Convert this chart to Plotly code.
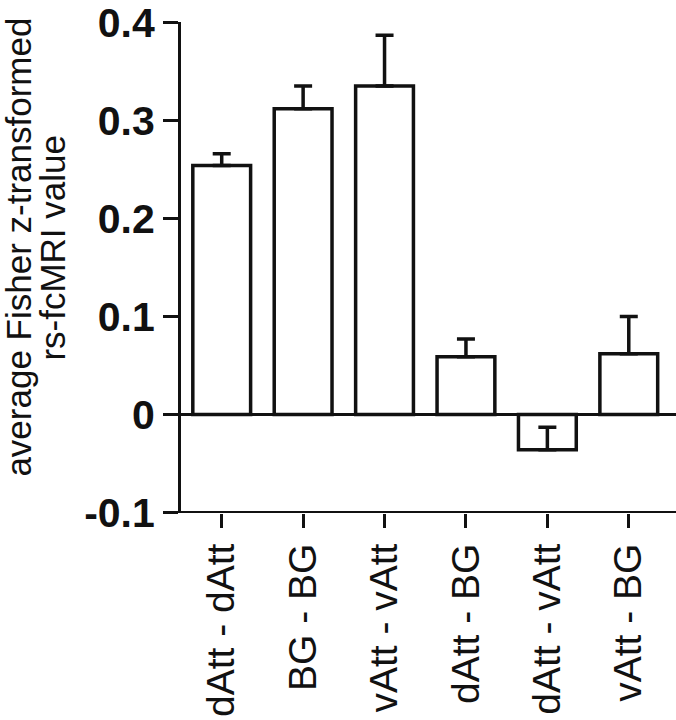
import plotly.graph_objects as go

categories = ["dAtt - dAtt", "BG - BG", "vAtt - vAtt", "dAtt - BG", "dAtt - vAtt", "vAtt - BG"]
values = [0.254, 0.312, 0.335, 0.059, -0.036, 0.062]
errors = [0.012, 0.023, 0.052, 0.018, 0.023, 0.038]
y_ticks = [-0.1, 0, 0.1, 0.2, 0.3, 0.4]
y_ticklabels = ["-0.1", "0", "0.1", "0.2", "0.3", "0.4"]
y_title_lines = ["average Fisher z-transformed", "rs-fcMRI value"]

ink = "#111111"
W, H = 676, 720
L, R, T, B = 181, 0, 19, 207
pw, ph = W - L - R, H - T - B


def px_x(p):
    return (p - L) / pw


def px_y(p):
    return (H - B - p) / ph


fig = go.Figure()
fig.add_trace(go.Bar(
    x=list(range(len(categories))),
    y=values,
    width=0.71,
    marker=dict(color="white", line=dict(color=ink, width=3.5)),
    error_y=dict(type="data", array=errors, arrayminus=[0] * len(errors),
                 symmetric=False, color=ink, thickness=3.5, width=9),
))

annotations = []
for text, cx in zip(y_title_lines, [19, 53]):
    annotations.append(dict(text=text, xref="paper", yref="paper", x=px_x(cx), y=px_y(246),
                            xanchor="center", yanchor="middle", textangle=-90, showarrow=False,
                            font=dict(size=35, color=ink)))

fig.update_layout(
    width=W, height=H,
    margin=dict(l=L, r=R, t=T, b=B),
    paper_bgcolor="white", plot_bgcolor="white",
    showlegend=False,
    font=dict(family="Liberation Sans, Arial, Helvetica, sans-serif", color=ink),
    xaxis=dict(
        range=[-0.5, 5.58],
        tickmode="array", tickvals=list(range(len(categories))), ticktext=categories,
        tickangle=-90, tickfont=dict(size=39, color=ink),
        ticks="outside", ticklen=14, tickwidth=3, tickcolor=ink,
        showline=False, showgrid=False, zeroline=False,
    ),
    yaxis=dict(
        range=[-0.1004, 0.4004],
        tickmode="array", tickvals=y_ticks, ticktext=y_ticklabels,
        tickfont=dict(size=41, color=ink, family="Liberation Sans, Arial, sans-serif", weight="bold"),
        ticklabeloverflow="allow",
        ticks="outside", ticklen=15, tickwidth=3, tickcolor=ink,
        showline=True, linewidth=3, linecolor=ink,
        showgrid=False, zeroline=True, zerolinecolor=ink, zerolinewidth=2.5,
    ),
    annotations=annotations,
    shapes=[dict(type="line", xref="paper", yref="y", x0=px_x(167), x1=1, y0=-0.1, y1=-0.1,
                 line=dict(color=ink, width=3))],
)

fig.write_html("out.html", config={"displayModeBar": False},
               post_script="document.body.style.margin='0';document.body.style.overflow='hidden';")
